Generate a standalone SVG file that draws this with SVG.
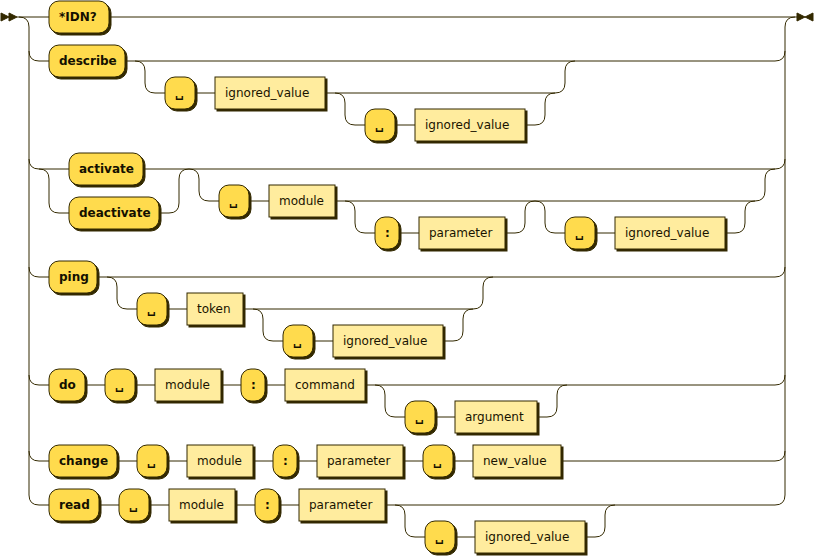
<svg xmlns="http://www.w3.org/2000/svg" width="815" height="557" viewBox="0 0 815 557">
<style>
.line{fill:none;stroke:#332900;stroke-width:1}
.arrow{fill:#332900;stroke:#332900}
.shadow{fill:#332900;stroke:#332900;stroke-width:1}
rect.t{fill:#FFDB4D;stroke:#332900;stroke-width:1}
rect.n{fill:#FFEC9E;stroke:#332900;stroke-width:1}
text.t{font-family:"DejaVu Sans",Verdana,sans-serif;font-size:12px;fill:#141000;font-weight:bold}
text.n{font-family:"DejaVu Sans",Verdana,sans-serif;font-size:12px;fill:#1A1400;font-weight:normal}
</style>
<rect width="815" height="557" fill="#ffffff"/>
<g id="connectors">
<polygon class="arrow" points="9 17 1 13 1 21"/>
<polygon class="arrow" points="17 17 9 13 9 21"/>
<polygon class="arrow" points="805 17 797 13 797 21"/>
<polygon class="arrow" points="805 17 813 13 813 21"/>
<path class="line" d="M17 17 H797"/>
<path class="line" d="M19 17 q10 0 10 10 V495 M785 495 V27 q0 -10 10 -10"/>
<path class="line" d="M29 51 q0 10 10 10 h10 M29 159 q0 10 10 10 h30 M29 267 q0 10 10 10 h10 M29 375 q0 10 10 10 h10 M29 451 q0 10 10 10 h10 M29 495 q0 10 10 10 h10"/>
<path class="line" d="M775 61 q10 0 10 -10 M775 169 q10 0 10 -10 M775 277 q10 0 10 -10 M775 385 q10 0 10 -10 M775 461 q10 0 10 -10 M775 505 q10 0 10 -10"/>
<path class="line" d="M125 61 H775 M135 61 q10 0 10 10 v12 q0 10 10 10 h10 M195 93 h20 M325 93 H555 q10 0 10 -10 v-12 q0 -10 10 -10 M335 93 q10 0 10 10 v12 q0 10 10 10 h10 M395 125 h20 M525 125 h10 q10 0 10 -10 v-12 q0 -10 10 -10"/>
<path class="line" d="M39 169 q10 0 10 10 v24 q0 10 10 10 h10 M143 169 H775 M159 213 h10 q10 0 10 -10 v-24 q0 -10 10 -10 M189 169 q10 0 10 10 v12 q0 10 10 10 h10 M249 201 h20 M335 201 H755 q10 0 10 -10 v-12 q0 -10 10 -10 M345 201 q10 0 10 10 v12 q0 10 10 10 h10 M399 233 h20 M505 233 h10 q10 0 10 -10 v-12 q0 -10 10 -10 q10 0 10 10 v12 q0 10 10 10 h10 M595 233 h20 M725 233 h10 q10 0 10 -10 v-12 q0 -10 10 -10"/>
<path class="line" d="M97 277 H775 M107 277 q10 0 10 10 v12 q0 10 10 10 h10 M167 309 h20 M243 309 H473 q10 0 10 -10 v-12 q0 -10 10 -10 M253 309 q10 0 10 10 v12 q0 10 10 10 h10 M313 341 h20 M443 341 h10 q10 0 10 -10 v-12 q0 -10 10 -10"/>
<path class="line" d="M85 385 h20 M135 385 h20 M221 385 h20 M265 385 h20 M365 385 H775 M375 385 q10 0 10 10 v12 q0 10 10 10 h10 M435 417 h20 M537 417 h10 q10 0 10 -10 v-12 q0 -10 10 -10"/>
<path class="line" d="M117 461 h20 M167 461 h20 M253 461 h20 M297 461 h20 M403 461 h20 M453 461 h20 M561 461 H775"/>
<path class="line" d="M99 505 h20 M149 505 h20 M235 505 h20 M279 505 h20 M385 505 H775 M395 505 q10 0 10 10 v12 q0 10 10 10 h10 M455 537 h20 M585 537 h10 q10 0 10 -10 v-12 q0 -10 10 -10"/>
</g>
<g id="t-idn"><rect class="shadow" x="51" y="3" width="60" height="32" rx="10"/><rect class="t" x="49" y="1" width="60" height="32" rx="10"/><text class="t" x="59" y="21">*IDN?</text></g>
<g id="t-describe"><rect class="shadow" x="51" y="47" width="76" height="32" rx="10"/><rect class="t" x="49" y="45" width="76" height="32" rx="10"/><text class="t" x="59" y="65">describe</text></g>
<g id="t-sp1"><rect class="shadow" x="167" y="79" width="30" height="32" rx="10"/><rect class="t" x="165" y="77" width="30" height="32" rx="10"/><text class="t" x="175" y="97">␣</text></g>
<g id="n-ign1"><rect class="shadow" x="217" y="79" width="110" height="32"/><rect class="n" x="215" y="77" width="110" height="32"/><text class="n" x="225" y="97">ignored_value</text></g>
<g id="t-sp2"><rect class="shadow" x="367" y="111" width="30" height="32" rx="10"/><rect class="t" x="365" y="109" width="30" height="32" rx="10"/><text class="t" x="375" y="129">␣</text></g>
<g id="n-ign2"><rect class="shadow" x="417" y="111" width="110" height="32"/><rect class="n" x="415" y="109" width="110" height="32"/><text class="n" x="425" y="129">ignored_value</text></g>
<g id="t-activate"><rect class="shadow" x="71" y="155" width="74" height="32" rx="10"/><rect class="t" x="69" y="153" width="74" height="32" rx="10"/><text class="t" x="79" y="173">activate</text></g>
<g id="t-deactivate"><rect class="shadow" x="71" y="199" width="90" height="32" rx="10"/><rect class="t" x="69" y="197" width="90" height="32" rx="10"/><text class="t" x="79" y="217">deactivate</text></g>
<g id="t-sp3"><rect class="shadow" x="221" y="187" width="30" height="32" rx="10"/><rect class="t" x="219" y="185" width="30" height="32" rx="10"/><text class="t" x="229" y="205">␣</text></g>
<g id="n-module1"><rect class="shadow" x="271" y="187" width="66" height="32"/><rect class="n" x="269" y="185" width="66" height="32"/><text class="n" x="279" y="205">module</text></g>
<g id="t-colon1"><rect class="shadow" x="377" y="219" width="24" height="32" rx="10"/><rect class="t" x="375" y="217" width="24" height="32" rx="10"/><text class="t" x="385" y="237">:</text></g>
<g id="n-param1"><rect class="shadow" x="421" y="219" width="86" height="32"/><rect class="n" x="419" y="217" width="86" height="32"/><text class="n" x="429" y="237">parameter</text></g>
<g id="t-sp4"><rect class="shadow" x="567" y="219" width="30" height="32" rx="10"/><rect class="t" x="565" y="217" width="30" height="32" rx="10"/><text class="t" x="575" y="237">␣</text></g>
<g id="n-ign3"><rect class="shadow" x="617" y="219" width="110" height="32"/><rect class="n" x="615" y="217" width="110" height="32"/><text class="n" x="625" y="237">ignored_value</text></g>
<g id="t-ping"><rect class="shadow" x="51" y="263" width="48" height="32" rx="10"/><rect class="t" x="49" y="261" width="48" height="32" rx="10"/><text class="t" x="59" y="281">ping</text></g>
<g id="t-sp5"><rect class="shadow" x="139" y="295" width="30" height="32" rx="10"/><rect class="t" x="137" y="293" width="30" height="32" rx="10"/><text class="t" x="147" y="313">␣</text></g>
<g id="n-token"><rect class="shadow" x="189" y="295" width="56" height="32"/><rect class="n" x="187" y="293" width="56" height="32"/><text class="n" x="197" y="313">token</text></g>
<g id="t-sp6"><rect class="shadow" x="285" y="327" width="30" height="32" rx="10"/><rect class="t" x="283" y="325" width="30" height="32" rx="10"/><text class="t" x="293" y="345">␣</text></g>
<g id="n-ign4"><rect class="shadow" x="335" y="327" width="110" height="32"/><rect class="n" x="333" y="325" width="110" height="32"/><text class="n" x="343" y="345">ignored_value</text></g>
<g id="t-do"><rect class="shadow" x="51" y="371" width="36" height="32" rx="10"/><rect class="t" x="49" y="369" width="36" height="32" rx="10"/><text class="t" x="59" y="389">do</text></g>
<g id="t-sp7"><rect class="shadow" x="107" y="371" width="30" height="32" rx="10"/><rect class="t" x="105" y="369" width="30" height="32" rx="10"/><text class="t" x="115" y="389">␣</text></g>
<g id="n-module2"><rect class="shadow" x="157" y="371" width="66" height="32"/><rect class="n" x="155" y="369" width="66" height="32"/><text class="n" x="165" y="389">module</text></g>
<g id="t-colon2"><rect class="shadow" x="243" y="371" width="24" height="32" rx="10"/><rect class="t" x="241" y="369" width="24" height="32" rx="10"/><text class="t" x="251" y="389">:</text></g>
<g id="n-command"><rect class="shadow" x="287" y="371" width="80" height="32"/><rect class="n" x="285" y="369" width="80" height="32"/><text class="n" x="295" y="389">command</text></g>
<g id="t-sp8"><rect class="shadow" x="407" y="403" width="30" height="32" rx="10"/><rect class="t" x="405" y="401" width="30" height="32" rx="10"/><text class="t" x="415" y="421">␣</text></g>
<g id="n-argument"><rect class="shadow" x="457" y="403" width="82" height="32"/><rect class="n" x="455" y="401" width="82" height="32"/><text class="n" x="465" y="421">argument</text></g>
<g id="t-change"><rect class="shadow" x="51" y="447" width="68" height="32" rx="10"/><rect class="t" x="49" y="445" width="68" height="32" rx="10"/><text class="t" x="59" y="465">change</text></g>
<g id="t-sp9"><rect class="shadow" x="139" y="447" width="30" height="32" rx="10"/><rect class="t" x="137" y="445" width="30" height="32" rx="10"/><text class="t" x="147" y="465">␣</text></g>
<g id="n-module3"><rect class="shadow" x="189" y="447" width="66" height="32"/><rect class="n" x="187" y="445" width="66" height="32"/><text class="n" x="197" y="465">module</text></g>
<g id="t-colon3"><rect class="shadow" x="275" y="447" width="24" height="32" rx="10"/><rect class="t" x="273" y="445" width="24" height="32" rx="10"/><text class="t" x="283" y="465">:</text></g>
<g id="n-param2"><rect class="shadow" x="319" y="447" width="86" height="32"/><rect class="n" x="317" y="445" width="86" height="32"/><text class="n" x="327" y="465">parameter</text></g>
<g id="t-sp10"><rect class="shadow" x="425" y="447" width="30" height="32" rx="10"/><rect class="t" x="423" y="445" width="30" height="32" rx="10"/><text class="t" x="433" y="465">␣</text></g>
<g id="n-newvalue"><rect class="shadow" x="475" y="447" width="88" height="32"/><rect class="n" x="473" y="445" width="88" height="32"/><text class="n" x="483" y="465">new_value</text></g>
<g id="t-read"><rect class="shadow" x="51" y="491" width="50" height="32" rx="10"/><rect class="t" x="49" y="489" width="50" height="32" rx="10"/><text class="t" x="59" y="509">read</text></g>
<g id="t-sp11"><rect class="shadow" x="121" y="491" width="30" height="32" rx="10"/><rect class="t" x="119" y="489" width="30" height="32" rx="10"/><text class="t" x="129" y="509">␣</text></g>
<g id="n-module4"><rect class="shadow" x="171" y="491" width="66" height="32"/><rect class="n" x="169" y="489" width="66" height="32"/><text class="n" x="179" y="509">module</text></g>
<g id="t-colon4"><rect class="shadow" x="257" y="491" width="24" height="32" rx="10"/><rect class="t" x="255" y="489" width="24" height="32" rx="10"/><text class="t" x="265" y="509">:</text></g>
<g id="n-param3"><rect class="shadow" x="301" y="491" width="86" height="32"/><rect class="n" x="299" y="489" width="86" height="32"/><text class="n" x="309" y="509">parameter</text></g>
<g id="t-sp12"><rect class="shadow" x="427" y="523" width="30" height="32" rx="10"/><rect class="t" x="425" y="521" width="30" height="32" rx="10"/><text class="t" x="435" y="541">␣</text></g>
<g id="n-ign5"><rect class="shadow" x="477" y="523" width="110" height="32"/><rect class="n" x="475" y="521" width="110" height="32"/><text class="n" x="485" y="541">ignored_value</text></g>
</svg>
